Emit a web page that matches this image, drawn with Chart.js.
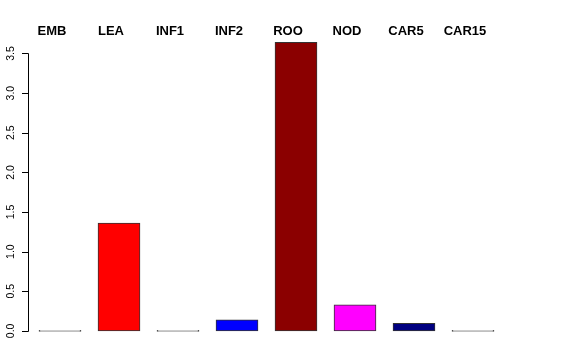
<!DOCTYPE html>
<html><head><meta charset="utf-8">
<script src="https://cdn.jsdelivr.net/npm/chart.js@4/dist/chart.umd.min.js"></script>
<style>html,body{margin:0;padding:0;background:#fff}#wrap{width:576px;height:360px}</style>
</head><body><div id="wrap"><canvas id="c" width="576" height="360"></canvas></div>
<script>
const categories = ["EMB","LEA","INF1","INF2","ROO","NOD","CAR5","CAR15"];
const values = [0, 1.36, 0, 0.14, 3.64, 0.33, 0.097, 0];
const barColors = ["#FFFFFF","#FF0000","#FFFFFF","#0000FF","#8B0000","#FF00FF","#000080","#FFFFFF"];
const yTicks = [0, 0.5, 1.0, 1.5, 2.0, 2.5, 3.0, 3.5];
const yTickLabels = ["0.0","0.5","1.0","1.5","2.0","2.5","3.0","3.5"];

const rAxis = {
  id: 'rAxis',
  afterDraw(chart) {
    const ctx = chart.ctx, y = chart.scales.y;
    const x0 = 28.5;
    ctx.save();
    ctx.strokeStyle = '#000'; ctx.lineWidth = 1;
    ctx.beginPath();
    ctx.moveTo(x0, Math.round(y.getPixelForValue(yTicks[0])) + 0.5);
    ctx.lineTo(x0, Math.round(y.getPixelForValue(yTicks[yTicks.length-1])) + 0.5);
    yTicks.forEach(v => {
      const p = Math.round(y.getPixelForValue(v)) + 0.5;
      ctx.moveTo(x0, p); ctx.lineTo(22, p);
    });
    ctx.stroke();
    ctx.fillStyle = '#000';
    ctx.font = '10.5px "Liberation Sans", Arial, sans-serif';
    ctx.textAlign = 'center'; ctx.textBaseline = 'middle';
    yTicks.forEach((v, i) => {
      const p = y.getPixelForValue(v);
      ctx.save(); ctx.translate(11, p); ctx.rotate(-Math.PI/2);
      ctx.fillText(yTickLabels[i], 0, 0);
      ctx.restore();
    });
    ctx.restore();
  }
};

new Chart(document.getElementById('c'), {
  type: 'bar',
  data: { labels: categories, datasets: [{
    data: values, backgroundColor: barColors, borderColor: '#333', borderWidth: 1,
    borderSkipped: false, minBarLength: 1, barThickness: 42
  }]},
  options: {
    responsive: false, animation: false,
    layout: { padding: { left: 0, right: 73.5, top: 0, bottom: 18 } },
    plugins: { legend: { display: false }, tooltip: { enabled: false } },
    scales: {
      x: { position: 'top', grid: { display: false, drawTicks: false }, border: { display: false },
           ticks: { color: '#000', padding: -2, labelOffset: -8, font: { family: '"Liberation Sans", Arial, sans-serif', size: 13, weight: 'bold' } },
           afterFit(s) { s.height = 37.6; } },
      y: { min: -0.14, max: 3.7, grid: { display: false }, border: { display: false },
           ticks: { display: false },
           afterBuildTicks(s) { s.ticks = yTicks.map(v => ({ value: v })); },
           afterFit(s) { s.width = 30.5; } }
    }
  },
  plugins: [rAxis]
});
</script></body></html>
